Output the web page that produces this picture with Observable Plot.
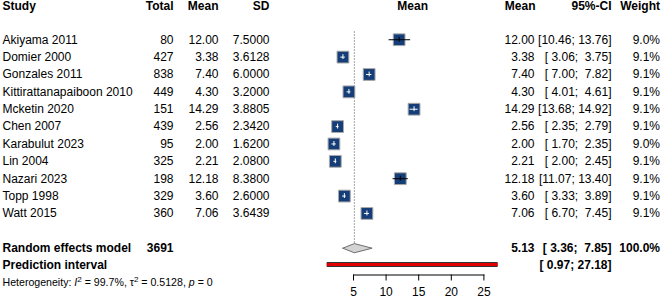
<!DOCTYPE html>
<html><head><meta charset="utf-8">
<script src="https://cdn.jsdelivr.net/npm/d3@7"></script>
<script src="https://cdn.jsdelivr.net/npm/@observablehq/plot@0.6"></script>
<style>
html,body{margin:0;padding:0;background:#fff;}
svg text{white-space:pre;}
</style></head><body><div id="chart"></div>
<script>
// ---- data ----
const studies = ["Akiyama 2011","Domier 2000","Gonzales 2011","Kittirattanapaiboon 2010","Mcketin 2020","Chen 2007","Karabulut 2023","Lin 2004","Nazari 2023","Topp 1998","Watt 2015"];
const totals = [80,427,838,449,151,439,95,325,198,329,360];
const means = [12.00,3.38,7.40,4.30,14.29,2.56,2.00,2.21,12.18,3.60,7.06];
const sds = [7.5000,3.6128,6.0000,3.2000,3.8805,2.3420,1.6200,2.0800,8.3800,2.6000,3.6439];
const lowers = [10.46,3.06,7.00,4.01,13.68,2.35,1.70,2.00,11.07,3.33,6.70];
const uppers = [13.76,3.75,7.82,4.61,14.92,2.79,2.35,2.45,13.40,3.89,7.45];
const weights = [9.0,9.1,9.1,9.1,9.1,9.1,9.0,9.1,9.1,9.1,9.1];
const pooledLabel = "Random effects model";
const pooledTotal = 3691;
const pooledMean = 5.13, pooledLower = 3.36, pooledUpper = 7.85, pooledWeight = 100.0;
const predLabel = "Prediction interval";
const predLower = 0.97, predUpper = 27.18;
const hetI2 = "99.7%", hetTau2 = "0.5128", hetP = "0";
const axisTicks = [5,10,15,20,25];
const headersLeft = ["Study","Total","Mean","SD"];
const headerPlot = "Mean";
const headersRight = ["Mean","95%-CI","Weight"];

// ---- layout ----
const W = 661, H = 300;
const ML = 353, MR = W - 483.4, MB = H - 274.5, MT = 0;
const rowY0 = 4.5, rowStep = 17.37;
const pxPerUnit = (W - MR - ML) / (d3.max(axisTicks) - d3.min(axisTicks));
const squareSide = 11.8;
const navy = "#153d78";

const f2 = d3.format(".2f"), f4 = d3.format(".4f"), f5 = d3.format("5.2f");
const ciStr = (l, u) => `[${f5(l)}; ${f5(u)}]`;

const rows = studies.map((s, i) => ({
  row: i + 2, study: s, total: String(totals[i]), mean: means[i], meanT: f2(means[i]),
  sd: f4(sds[i]), lower: lowers[i], upper: uppers[i], ci: ciStr(lowers[i], uppers[i]),
  weight: weights[i], wT: weights[i].toFixed(1) + "%",
  inside: (uppers[i] - lowers[i]) * pxPerUnit < squareSide
}));
const pooled = {row: 14, study: pooledLabel, total: String(pooledTotal), meanT: f2(pooledMean), ci: ciStr(pooledLower, pooledUpper), wT: pooledWeight.toFixed(1) + "%"};
const pred = {row: 15, study: predLabel, lower: predLower, upper: predUpper, ci: ciStr(predLower, predUpper)};
const header = {row: 0};
const dh = 4.6 / rowStep;
const diamond = [
  {x: pooledLower, y: 14}, {x: pooledMean, y: 14 - dh}, {x: pooledUpper, y: 14},
  {x: pooledMean, y: 14 + dh}, {x: pooledLower, y: 14}
];

function col(data, text, px, anchor, bold, extra = {}) {
  return Plot.text(data, {y: "row", text, frameAnchor: "left", dx: px - ML, textAnchor: anchor,
    fontWeight: bold ? "bold" : "normal", fill: "black", fontSize: 12, ...extra});
}
const hdr = (t, px, anchor) => Plot.text([header], {y: "row", text: () => t, frameAnchor: "left", dx: px - ML, dy: 1.5, textAnchor: anchor, fontWeight: "bold", fontSize: 12});

const colPx = {study: 2, total: 173, mean: 218, sd: 269, mean2: 534, ci: 611, w: 659.5};

const plot = Plot.plot({
  width: W, height: H,
  marginLeft: ML, marginRight: MR, marginTop: MT, marginBottom: MB,
  style: {fontFamily: "'Liberation Sans', Arial, sans-serif", fontSize: "12px", background: "#fff", color: "black"},
  x: {domain: [d3.min(axisTicks), d3.max(axisTicks)]},
  y: {domain: [0, 16], range: [rowY0, rowY0 + 16 * rowStep], axis: null},
  r: {range: [0, squareSide / Math.sqrt(Math.PI)]},
  marks: [
    hdr(headersLeft[0], colPx.study, "start"),
    hdr(headersLeft[1], colPx.total, "end"),
    hdr(headersLeft[2], colPx.mean, "end"),
    hdr(headersLeft[3], colPx.sd, "end"),
    Plot.text([header], {y: "row", x: () => (predLower + predUpper) / 2, dy: 1.5, text: () => headerPlot, fontWeight: "bold", fontSize: 12}),
    hdr(headersRight[0], colPx.mean2 + 1, "end"),
    hdr(headersRight[1], colPx.ci, "end"),
    hdr(headersRight[2], colPx.w, "end"),
    col(rows, "study", colPx.study, "start"),
    col(rows, "total", colPx.total, "end"),
    col(rows, "meanT", colPx.mean, "end"),
    col(rows, "sd", colPx.sd, "end"),
    col(rows, "meanT", colPx.mean2, "end"),
    col(rows, "ci", colPx.ci, "end"),
    col(rows, "wT", colPx.w, "end"),
    col([pooled], "study", colPx.study, "start", true),
    col([pooled], "total", colPx.total, "end", true),
    col([pooled], "meanT", colPx.mean2, "end", true),
    col([pooled], "ci", colPx.ci, "end", true),
    col([pooled], "wT", colPx.w, "end", true),
    col([pred], "study", colPx.study, "start", true),
    col([pred], "ci", colPx.ci, "end", true),
    Plot.text([{row: 16}], {y: "row", text: () => `Heterogeneity: I2 = ${hetI2}, t2 = ${hetTau2}, p = ${hetP}`, frameAnchor: "left", dx: 2 - ML, textAnchor: "start", fontSize: 10.6}),
    Plot.ruleX([pooledMean], {y1: 1.55, y2: 14 - dh, stroke: "#666", strokeDasharray: "1.2,1.8", strokeWidth: 1}),
    Plot.dot(rows, {x: "mean", y: "row", r: "weight", symbol: "square", fill: navy, stroke: "#a9a9a9", strokeWidth: 1}),
    Plot.ruleY(rows.filter(d => !d.inside), {y: "row", x1: "lower", x2: "upper", stroke: "black", strokeWidth: 1}),
    Plot.ruleY(rows.filter(d => d.inside), {y: "row", x1: "lower", x2: "upper", stroke: "white", strokeWidth: 1}),
    Plot.ruleX(rows.filter(d => !d.inside), {x: "mean", y1: d => d.row - 0.14, y2: d => d.row + 0.14, stroke: "black", strokeWidth: 1}),
    Plot.ruleX(rows.filter(d => d.inside), {x: "mean", y1: d => d.row - 0.14, y2: d => d.row + 0.14, stroke: "white", strokeWidth: 1}),
    Plot.line(diamond, {x: "x", y: "y", fill: "#d3d3d3", stroke: "#6e6e6e", strokeWidth: 1}),
    Plot.ruleY([pred], {y: "row", x1: "lower", x2: "upper", stroke: "#333", strokeWidth: 5, dy: -1}),
    Plot.ruleY([pred], {y: "row", x1: "lower", x2: "upper", stroke: "#e00000", strokeWidth: 3, dy: -1}),
    Plot.frame({anchor: "bottom", stroke: "black"}),
    Plot.axisX({ticks: axisTicks, tickSize: 6, tickPadding: 6.5, fontSize: 12, label: null, anchor: "bottom", tickFormat: d3.format("d")})
  ]
});

d3.select(plot).selectAll("text").filter(function() { return this.textContent.startsWith("Heterogeneity"); })
  .each(function() {
    const t = d3.select(this);
    t.text(null);
    t.append("tspan").text("Heterogeneity: ");
    t.append("tspan").attr("font-style", "italic").text("I");
    t.append("tspan").attr("dy", -4).attr("font-size", 8).text("2");
    t.append("tspan").attr("dy", 4).text(` = ${hetI2}, \u03C4`);
    t.append("tspan").attr("dy", -4).attr("font-size", 8).text("2");
    t.append("tspan").attr("dy", 4).text(` = ${hetTau2}, `);
    t.append("tspan").attr("font-style", "italic").text("p");
    t.append("tspan").text(` = ${hetP}`);
  });

document.getElementById("chart").appendChild(plot);
</script>
</body></html>
